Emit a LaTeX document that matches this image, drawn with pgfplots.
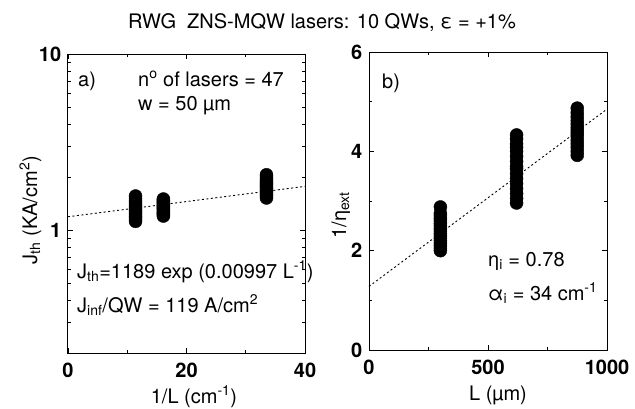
\documentclass[border=0pt]{standalone}
\usepackage{fontspec}
\setmainfont{TeX Gyre Heros}
\usepackage{pgfplots}
\pgfplotsset{compat=1.18}
\begin{document}
\fontsize{20}{24}\selectfont
\begin{tikzpicture}[x=1pt,y=1pt]
\useasboundingbox (0,0) rectangle (635,-408);
\pgfplotsset{
  myax/.style={
    scale only axis, clip=false,
    tick align=inside,
    major tick length=5pt, minor tick length=3pt,
    every tick/.style={black, line width=0.8pt},
    axis line style={line width=1pt},
    ticklabel style={font=\fontsize{20}{20}\selectfont\bfseries},
    xticklabel style={yshift=-3pt},
    /pgf/number format/assume math mode=true,
    scaled x ticks=false, scaled y ticks=false,
  }
}
% ---------- panel a ----------
\begin{axis}[myax,
  at={(68pt,-353pt)}, anchor=south west,
  width=237pt, height=299pt,
  xmin=0, xmax=40, ymode=log, ymin=0.2, ymax=10,
  xtick={0,20,40}, xticklabels={0,20,40}, minor xtick={10,30},
  ytick={1,10}, yticklabels={1,10},
  minor ytick={0.2,0.3,0.4,0.5,0.6,0.7,0.8,0.9,2,3,4,5,6,7,8,9},
]
\addplot[black, line width=0.9pt, dash pattern=on 2pt off 2.5pt] coordinates {(0,1.189) (40,1.77)};
\addplot[only marks, mark=*, mark size=6.5pt, black] coordinates {
(11.4,1.12) (11.4,1.15) (11.4,1.18) (11.4,1.20) (11.4,1.23) (11.4,1.26) (11.4,1.29)
(11.4,1.32) (11.4,1.35) (11.4,1.38) (11.4,1.42) (11.4,1.46) (11.4,1.51) (11.4,1.56)
};
\addplot[only marks, mark=*, mark size=6.5pt, black] coordinates {
(16.1,1.20) (16.1,1.22) (16.1,1.24) (16.1,1.26) (16.1,1.28) (16.1,1.30) (16.1,1.32) (16.1,1.34)
(16.1,1.36) (16.1,1.38) (16.1,1.40) (16.1,1.42) (16.1,1.44) (16.1,1.46) (16.1,1.48) (16.1,1.50)
};
\addplot[only marks, mark=*, mark size=6.5pt, black] coordinates {
(33.5,1.52) (33.5,1.55) (33.5,1.58) (33.5,1.61) (33.5,1.64) (33.5,1.67) (33.5,1.70) (33.5,1.73)
(33.5,1.76) (33.5,1.79) (33.5,1.82) (33.5,1.85) (33.5,1.88) (33.5,1.92) (33.5,1.96) (33.5,2.01) (33.5,2.06)
};
\end{axis}
% ---------- panel b ----------
\begin{axis}[myax,
  at={(369pt,-350pt)}, anchor=south west,
  width=238pt, height=298pt,
  xmin=0, xmax=1000, ymin=0, ymax=6,
  xtick={0,500,1000}, xticklabels={0,500,1000}, minor xtick={250,750},
  ytick={0,2,4,6}, yticklabels={0,2,4,6}, minor ytick={1,3,5},
]
\addplot[black, line width=0.9pt, dash pattern=on 2pt off 2.5pt] coordinates {(0,1.28) (1000,4.85)};
\addplot[only marks, mark=*, mark size=6.5pt, black] coordinates {
(300,2.00) (300,2.05) (300,2.10) (300,2.15) (300,2.20) (300,2.25) (300,2.30) (300,2.35) (300,2.40)
(300,2.45) (300,2.50) (300,2.55) (300,2.60) (300,2.65) (300,2.70) (300,2.75) (300,2.88)
};
\addplot[only marks, mark=*, mark size=6.5pt, black] coordinates {
(620,2.96) (620,3.05) (620,3.15) (620,3.25) (620,3.35) (620,3.45) (620,3.55) (620,3.65)
(620,3.70) (620,3.80) (620,3.90) (620,4.00) (620,4.08) (620,4.15) (620,4.25) (620,4.33)
};
\addplot[only marks, mark=*, mark size=6.5pt, black] coordinates {
(875,3.92) (875,4.00) (875,4.08) (875,4.15) (875,4.22) (875,4.30) (875,4.36)
(875,4.42) (875,4.48) (875,4.55) (875,4.62) (875,4.70) (875,4.78) (875,4.87)
};
\end{axis}
% ---------- texts ----------
\begin{scope}[every node/.style={inner sep=0pt, font=\fontsize{20}{24}\selectfont}]
\node[anchor=base] at (322,-28) {RWG\ \ ZNS-MQW lasers: 10 QWs, ε = +1\%};
\node[anchor=base west] at (78,-86) {a)};
\node[anchor=base west] at (138,-86) {n\textsuperscript{o} of lasers = 47};
\node[anchor=base west] at (138,-110) {w = 50 µm};
\node[anchor=base west] at (77,-278) {J\textsubscript{th}=1189 exp (0.00997 L\textsuperscript{-1})};
\node[anchor=base west] at (77,-312) {J\textsubscript{inf}/QW = 119 A/cm\textsuperscript{2}};
\node[anchor=base west] at (382,-88) {b)};
\node[anchor=base west] at (488,-266) {η\textsubscript{i} = 0.78};
\node[anchor=base west] at (488,-300) {α\textsubscript{i} = 34 cm\textsuperscript{-1}};
\node[anchor=base] at (194,-403) {1/L (cm\textsuperscript{-1})};
\node[anchor=base] at (498,-400) {L (µm)};
\node[anchor=base, rotate=90] at (37,-210) {J\textsubscript{th} (KA/cm\textsuperscript{2})};
\node[anchor=base, rotate=90] at (346,-215) {1/η\textsubscript{ext}};
\end{scope}
\end{tikzpicture}
\end{document}
